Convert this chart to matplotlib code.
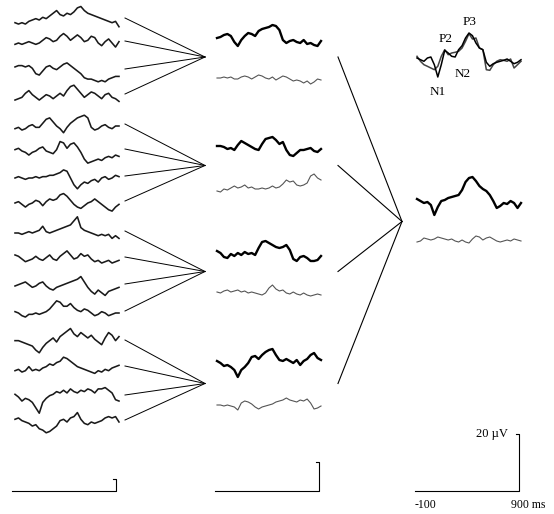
import numpy as np
import matplotlib
matplotlib.use("Agg")
import matplotlib.pyplot as plt

# ---------------- data (amplitude units, up positive) ----------------
t = np.linspace(-100, 900, 31)  # ms sample grid

left_traces = [
    [-2,-3,-2,-3,-1,0,1,0,2,1,3,5,7,4,3,5,4,6,9,10,7,5,4,3,2,1,0,-1,-2,-1,-5],
    [-1,0,-1,0,1,0,-1,0,2,4,3,1,2,5,7,5,2,4,6,4,1,2,5,4,0,-2,1,3,0,-3,1],
    [3,4,4,3,4,2,-2,-3,0,3,4,2,1,3,5,6,4,2,0,-2,-5,-6,-6,-7,-8,-7,-8,-6,-5,-4,-4],
    [-3,-2,-1,2,4,1,-1,-3,-1,1,0,-2,0,2,0,4,7,8,5,2,-1,1,3,2,0,-2,1,2,-1,-2,-4],
    [-2,-1,-3,-2,0,1,-1,-1,2,5,6,3,0,-2,-5,-1,2,4,6,7,8,6,-1,-3,-2,0,1,-1,-2,0,0],
    [1,2,0,-1,-3,-1,0,2,3,0,-1,-2,1,7,6,2,5,6,3,-1,-6,-9,-8,-7,-6,-7,-5,-4,-5,-3,-4],
    [0,1,0,-1,0,0,1,0,1,1,2,2,3,4,6,5,0,-5,-8,-5,-3,-4,-2,-1,-3,0,1,-1,0,2,1],
    [0,1,-1,-3,-1,0,2,1,-2,1,3,2,3,6,7,5,2,-1,-3,-4,-2,0,1,3,1,-1,-3,-5,-6,-3,-1],
    [0,0,-1,0,1,0,1,2,5,1,0,1,2,3,4,5,6,9,12,4,2,1,0,-1,-2,-1,-2,-1,-4,-2,-4],
    [3,2,0,-2,-1,0,2,0,-1,1,3,0,-1,2,4,6,3,0,1,4,2,3,0,-2,-1,-3,-2,-1,-3,-2,-1],
    [0,1,2,3,1,-1,0,2,3,0,-2,-3,-1,0,1,2,3,4,5,7,3,-1,-4,-6,-3,-5,-7,-4,-3,-2,-1],
    [1,0,-2,-3,-1,-1,0,-1,0,1,3,6,9,8,5,5,7,4,2,1,3,2,0,-2,-1,1,0,-2,-1,0,0],
    [1,1,0,-1,-2,-3,-6,-8,-4,-1,1,3,0,4,6,8,10,6,4,7,5,3,5,2,0,-2,3,7,5,1,4],
    [-2,-1,-3,-2,1,-2,-1,-2,0,1,3,2,4,5,8,7,5,3,1,0,-1,-2,-3,-4,-2,-3,-1,-2,0,1,2],
    [2,0,-3,-1,-2,-4,-8,-12,-4,-1,1,2,4,3,5,3,6,4,3,5,4,6,5,3,6,6,7,5,3,-2,-3],
    [2,3,1,0,-1,-3,-2,-5,-6,-8,-7,-5,-3,1,2,0,3,4,7,2,-1,-2,0,-1,0,1,3,4,3,4,0],
]

mid_dark = [
    [0,1,3,4,2,-4,-8,-2,2,5,4,2,7,9,10,11,13,12,8,-2,-5,-3,-2,-4,-5,-2,-6,-5,-7,-8,-3],
    [1,1,0,-2,-1,-3,2,6,4,2,0,-2,-3,3,8,9,10,7,3,5,-3,-8,-9,-6,-3,-3,-2,-1,-4,-5,-2],
    [2,0,-4,-5,-1,-3,0,-2,1,-1,0,-2,5,11,12,10,8,6,5,6,8,3,-6,-8,-4,-3,-5,-8,-8,-7,-3],
    [3,1,-2,-1,-3,-6,-13,-6,-3,1,7,8,5,9,12,14,15,9,4,3,5,3,1,4,-1,3,5,9,11,6,4],
]
mid_light = [
    [0,0,1,0,1,-1,-1,1,2,1,-1,1,3,2,0,-1,1,-2,0,2,1,-1,-3,-2,-3,-5,-3,-6,-4,-1,-2],
    [-5,-6,-3,-4,-2,0,-2,-1,1,-2,-1,-3,-3,-2,-3,-2,0,-2,-1,2,6,4,5,1,0,1,3,10,12,8,6],
    [0,-1,1,2,0,1,2,0,1,-1,0,-1,-2,-3,-1,4,7,3,1,2,-1,-2,0,-2,-3,-1,-3,-4,-3,-2,-3],
    [0,0,-1,0,-1,-2,-5,2,4,3,1,-2,-4,-2,-1,0,1,3,4,5,7,5,4,3,5,4,6,2,-4,-3,-1],
]

right_dark = [4,2,0,1,-2,-12,-4,2,3,5,6,7,8,13,21,25,26,22,17,14,12,8,2,-5,-3,0,-1,2,0,-5,0]
right_light = [-2,-1,2,1,0,1,3,2,1,0,1,-1,-2,0,-2,-3,1,4,3,0,2,3,1,-1,-2,-1,0,-1,1,0,-1]

overlay_a = [5,3.3,1.7,5,6,-1.7,-14,-1.7,12.7,10,6.7,6,13.3,17.3,25,30,27.3,20,15,13.3,0.7,-3.3,-0.7,0.7,1.7,2.7,4,1.7,-0.7,0.7,3.3]
overlay_b = [6.7,1.7,-1.7,-3.3,-5,-6.7,-3.3,6.7,13.3,8.3,10,10.7,11.7,15,21.7,29.3,24,25,15,13.3,-6.7,-7.3,-1.7,1.7,3.3,2.7,1.7,4,-5,-1.7,1.7]

peak_labels = ["P3", "P2", "N2", "N1"]
peak_pos = [(470, 22), (446, 39), (463, 74), (438, 92)]  # label layout (px)

# ---------------- layout (px) ----------------
W, H = 554, 514
left_x0, mid_x0, right_x0 = 15, 217, 417
trace_w = 104
left_y = [20, 43, 71, 96, 126, 151, 178, 203, 233, 259, 286, 313, 342, 368, 397, 422]
mid_dark_y = [38, 147, 253, 364]
mid_light_y = [78, 186, 292, 405]
right_dark_y, right_light_y, overlay_y = 203, 240, 63
half_h = 40

fig = plt.figure(figsize=(W / 100, H / 100), dpi=100)
bg = fig.add_axes([0, 0, 1, 1])
bg.set_xlim(0, W)
bg.set_ylim(H, 0)
bg.axis("off")


def trace_ax(x0, yc, gain=1.0):
    ax = fig.add_axes([x0 / W, 1 - (yc + half_h) / H, trace_w / W, 2 * half_h / H])
    ax.set_xlim(-100, 900)
    ax.set_ylim(-half_h / gain, half_h / gain)
    ax.axis("off")
    ax.patch.set_alpha(0)
    return ax


for yc, vals in zip(left_y, left_traces):
    trace_ax(left_x0, yc, 1.35).plot(t, vals, color="#1a1a1a", lw=1.15, clip_on=False)

for yc, vals in zip(mid_dark_y, mid_dark):
    trace_ax(mid_x0, yc).plot(t, vals, color="black", lw=1.7, clip_on=False)
for yc, vals in zip(mid_light_y, mid_light):
    trace_ax(mid_x0, yc).plot(t, vals, color="#555555", lw=0.8, clip_on=False)

trace_ax(right_x0, right_dark_y).plot(t, right_dark, color="black", lw=1.7, clip_on=False)
trace_ax(right_x0, right_light_y).plot(t, right_light, color="#555555", lw=0.8, clip_on=False)
ov = trace_ax(right_x0, overlay_y)
ov.plot(t, overlay_b, color="#444444", lw=1.1, clip_on=False)
ov.plot(t, overlay_a, color="black", lw=1.1, clip_on=False)

serif = ["Liberation Serif", "DejaVu Serif"]
for lab, (x, y) in zip(peak_labels, peak_pos):
    bg.text(x, y, lab, fontsize=9.5, family=serif, ha="center", va="center")

# fan lines
conv_mid = [(a + b) / 2 for a, b in zip(mid_dark_y, mid_light_y)]
for g in range(4):
    for k in range(4):
        bg.plot([125, 205], [left_y[4 * g + k] - 2, conv_mid[g] - 1], color="black", lw=0.7)
conv_right = (right_dark_y + right_light_y) / 2
for g in range(4):
    bg.plot([338, 402], [conv_mid[g] - 1, conv_right], color="black", lw=0.8)

# scale bars
bar_y = 491
for x0, top in [(12, 479), (215, 462), (415, 434)]:
    x1 = x0 + trace_w
    bg.plot([x0, x1, x1, x1 - 3], [bar_y, bar_y, top, top], color="black", lw=0.8)
bg.text(508, 434, "20 µV", fontsize=9, family=serif, ha="right", va="center")
bg.text(425, 505, "-100", fontsize=8.5, family=serif, ha="center", va="center")
bg.text(528, 505, "900 ms", fontsize=8.5, family=serif, ha="center", va="center")

fig.savefig("out.png", dpi=100)
